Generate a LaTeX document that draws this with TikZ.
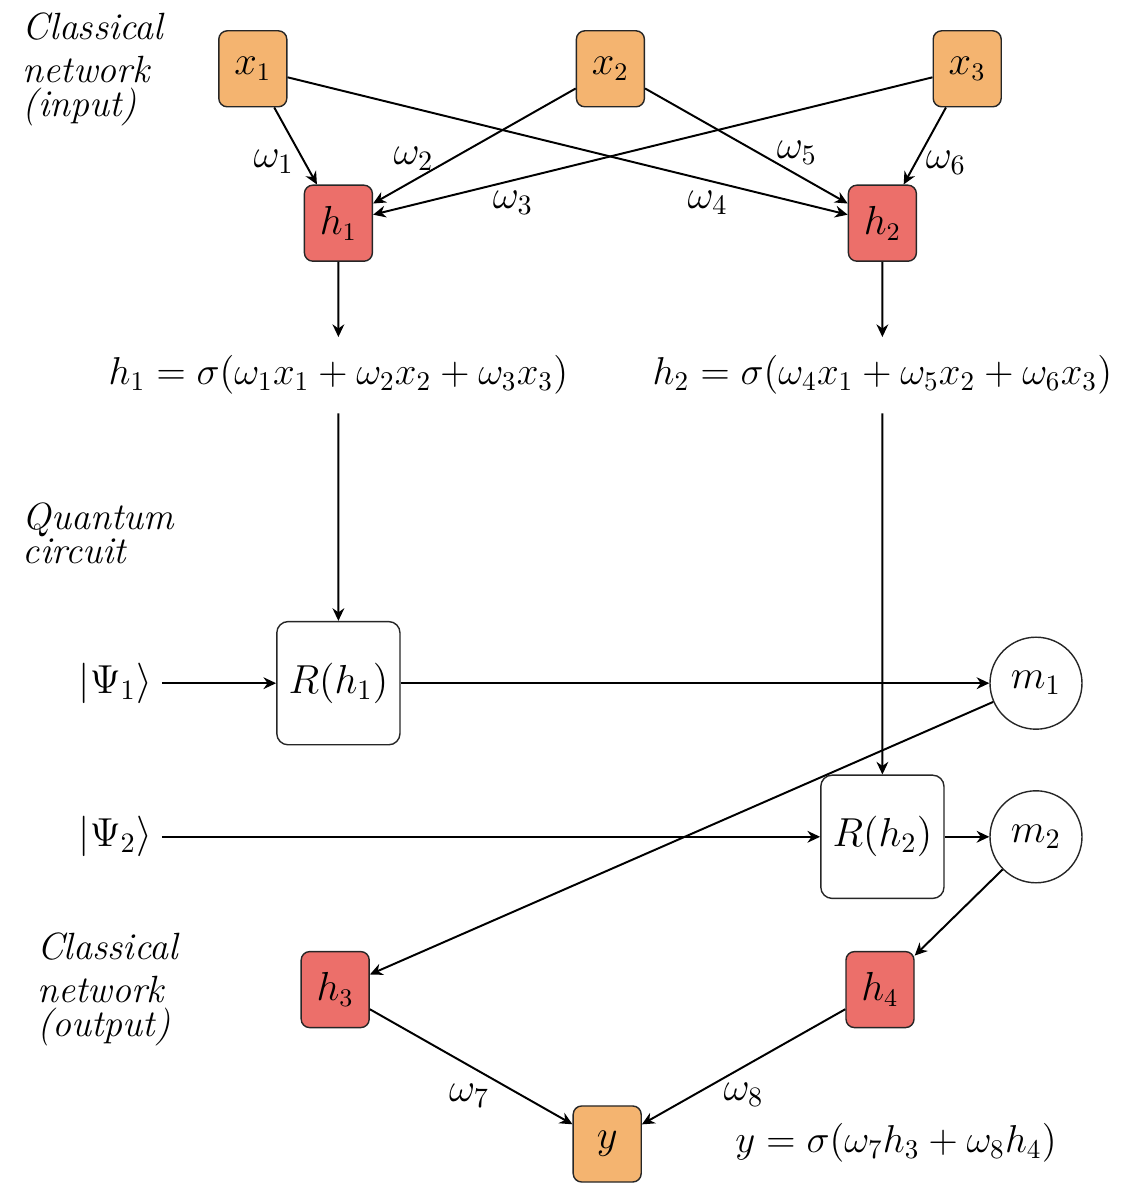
\documentclass[tikz,border=0pt]{standalone}
\usepackage{amsmath}
\usepackage{fontspec}
\usetikzlibrary{
  arrows.meta,
  positioning,
}
\definecolor{inputOrange}{HTML}{F4B470}
\definecolor{hiddenRed}{HTML}{EC6F6A}
\tikzset{
  unitbox/.style={
    rectangle, rounded corners=3pt, draw=black!85, line width=0.5pt,
    minimum width=0.85cm, minimum height=0.95cm, inner sep=0pt,
    font=\fontsize{13.5}{16}\selectfont,
  },
  inbox/.style={unitbox, fill=inputOrange},
  hidbox/.style={unitbox, fill=hiddenRed},
  gatebox/.style={
    rectangle, rounded corners=4pt, draw=black!85, line width=0.5pt,
    minimum size=1.54cm, inner sep=0pt,
  },
  measnode/.style={
    circle, draw=black!85, line width=0.5pt,
    minimum size=1.15cm, inner sep=0pt,
  },
  eqnode/.style={
    scale=0.96, transform shape, minimum height=0.98cm, inner sep=0pt,
  },
  sidelabel/.style={
    anchor=north west, align=left, inner sep=0pt,
    font=\itshape\fontsize{13.5}{12}\selectfont,
  },
  arrowMed/.style={
    -{Stealth[length=4.5pt,width=4.2pt]}, line width=0.7pt,
  },
}
\begin{document}
\begin{tikzpicture}[font=\fontsize{14}{17}\selectfont]
\useasboundingbox (0,0) rectangle (14.075,15);

% Side labels
\node[sidelabel] (lblIn) at (0.28, 14.85)
   {Classical\\[3.5pt]network\\(input)};
\node[sidelabel] (lblQ) at (0.28, 8.72) {Quantum\\circuit};
\node[sidelabel] (lblOut) at (0.46, 3.35)
   {Classical\\[3.5pt]network\\(output)};

% Input layer and first hidden layer
\node[inbox] (x1) at (3.16, 14.14) {$x_1$};
\node[inbox] (x2) at (7.63, 14.14) {$x_2$};
\node[inbox] (x3) at (12.09, 14.14) {$x_3$};
\node[hidbox] (h1) at (4.23, 12.21) {$h_1$};
\node[hidbox] (h2) at (11.03, 12.21) {$h_2$};

\draw[arrowMed] (x1) -- node[pos=0.7, left] {$\omega_1$} (h1);
\draw[arrowMed] (x2) -- node[pos=0.8, above] {$\omega_2$} (h1);
\draw[arrowMed] (x3) -- node[pos=0.75, below] {$\omega_3$} (h1);
\draw[arrowMed] (x1) -- node[pos=0.75, below] {$\omega_4$} (h2);
\draw[arrowMed] (x2) -- node[pos=0.75, above] {$\omega_5$} (h2);
\draw[arrowMed] (x3) -- node[pos=0.72, right] {$\omega_6$} (h2);

% Activations
\node[eqnode] (eq1) at (4.23, 10.31)
   {$h_1 = \sigma(\omega_1 x_1 + \omega_2 x_2 + \omega_3 x_3)$};
\node[eqnode] (eq2) at (11.03, 10.31)
   {$h_2 = \sigma(\omega_4 x_1 + \omega_5 x_2 + \omega_6 x_3)$};
\draw[arrowMed] (h1) -- (eq1);
\draw[arrowMed] (h2) -- (eq2);

% Quantum circuit
\node (psi1) at (1.44, 6.46) {$|\Psi_1\rangle$};
\node (psi2) at (1.44, 4.54) {$|\Psi_2\rangle$};
\node[gatebox] (R1) at (4.23, 6.46) {$R(h_1)$};
\node[gatebox] (R2) at (11.03, 4.54) {$R(h_2)$};
\node[measnode] (m1) at (12.95, 6.46) {$m_1$};
\node[measnode] (m2) at (12.95, 4.54) {$m_2$};

\draw[arrowMed] (eq1) -- (R1);
\draw[arrowMed] (eq2) -- (R2);
\draw[arrowMed] (psi1) -- (R1);
\draw[arrowMed] (R1) -- (m1);
\draw[arrowMed] (psi2) -- (R2);
\draw[arrowMed] (R2) -- (m2);

% Output network
\node[hidbox] (h3) at (4.19, 2.63) {$h_3$};
\node[hidbox] (h4) at (11.0, 2.63) {$h_4$};
\node[inbox] (y) at (7.59, 0.7) {$y$};
\node[eqnode] (yeq) at (11.2, 0.71) {$y = \sigma(\omega_7 h_3 + \omega_8 h_4)$};

\draw[arrowMed] (m1) -- (h3);
\draw[arrowMed] (m2) -- (h4);
\draw[arrowMed] (h3) -- node[pos=0.49, below=3pt] {$\omega_7$} (y);
\draw[arrowMed] (h4) -- node[pos=0.5, below=2pt] {$\omega_8$} (y);

\end{tikzpicture}
\end{document}
